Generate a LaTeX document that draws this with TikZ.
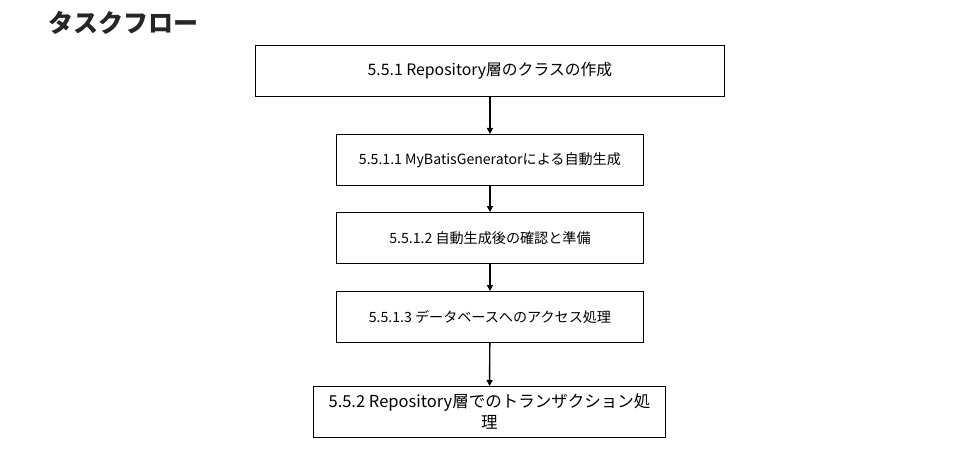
\documentclass[tikz,border=0pt]{standalone}
\usepackage{fontspec}
\setmainfont{Noto Sans CJK JP}
\usepackage{tikz}
\usetikzlibrary{arrows.meta}

\begin{document}
\begin{tikzpicture}[x=1pt,y=-1pt,thick,
  taskbox/.style={draw,rectangle,line width=0.9pt,anchor=north west,inner sep=0pt},
  flow/.style={-{Triangle[length=6pt,width=6pt]},line width=1.4pt}]
\useasboundingbox (0,0) rectangle (966,468);
\node [anchor=west,text=black!85,font=\bfseries\fontsize{25}{28}\selectfont] (title) at (45,23) {タスクフロー};

\node [taskbox,minimum width=469pt,minimum height=51pt,font=\fontsize{15.8}{18}\selectfont] (s551) at (255,45) {5.5.1 Repository層のクラスの作成};
\node [taskbox,minimum width=307pt,minimum height=51pt,font=\fontsize{14.1}{16}\selectfont] (s5511) at (336,134) {5.5.1.1 MyBatisGeneratorによる自動生成};
\node [taskbox,minimum width=307pt,minimum height=51pt,font=\fontsize{14.1}{16}\selectfont] (s5512) at (336,212) {5.5.1.2 自動生成後の確認と準備};
\node [taskbox,minimum width=307pt,minimum height=51pt,font=\fontsize{14.1}{16}\selectfont] (s5513) at (336,291) {5.5.1.3 データベースへのアクセス処理};
\node [taskbox,minimum width=352pt,minimum height=51pt,align=center,font=\fontsize{16.5}{21}\selectfont] (s552) at (313,386) {5.5.2 Repository層でのトランザクション処\\理};

\draw [flow] (s551) -- (s5511);
\draw [flow] (s5511) -- (s5512);
\draw [flow] (s5512) -- (s5513);
\draw [flow] (s5513) -- (s552);
\end{tikzpicture}
\end{document}
